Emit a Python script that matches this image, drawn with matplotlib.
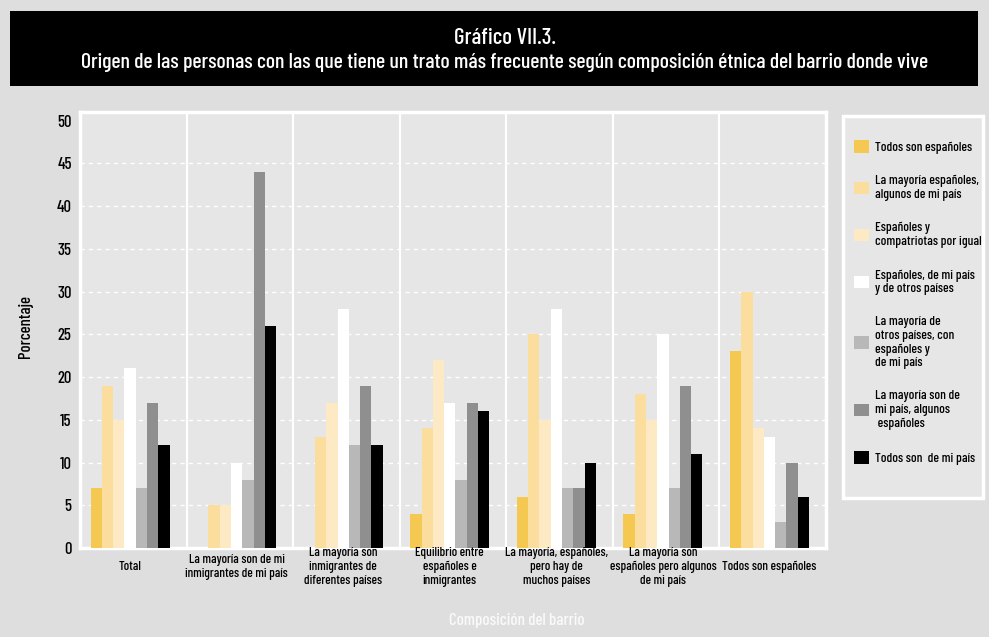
"""
Gráfico VII.3 - origen de las personas con las que tiene un trato más frecuente
"""

import matplotlib.pyplot as plt
import numpy as np
from matplotlib.patches import Patch, Rectangle

plt.rcParams['font.family'] = ['Barlow Condensed', 'Liberation Sans', 'DejaVu Sans']
plt.rcParams['font.weight'] = 'medium'

# categories on the x axis (composition of the neighbourhood)
categorias = [
    'Total',
    'La mayoría son de mi\ninmigrantes de mi país',
    'La mayoría son\ninmigrantes de\ndiferentes países',
    'Equilibrio entre\nespañoles e\ninmigrantes',
    'La mayoría, españoles,\npero hay de\nmuchos países',
    'La mayoría son\nespañoles pero algunos\nde mi país',
    'Todos son españoles',
]

# series (origin of the people they deal with most)
series = [
    'Todos son españoles',
    'La mayoría españoles,\nalgunos de mi país',
    'Españoles y\ncompatriotas por igual',
    'Españoles, de mi país\ny de otros países',
    'La mayoría de\notros países, con\nespañoles y\nde mi país',
    'La mayoría son de\nmi país, algunos\n españoles',
    'Todos son  de mi país',
]
colores = ['#f5c951', '#fbdd9e', '#fde9c3', '#ffffff', '#b8b8b8', '#8f8f8f', '#000000']

todos_espanoles = [7, 0, 0, 4, 6, 4, 23]
mayoria_esp_mi_pais = [19, 5, 13, 14, 25, 18, 30]
esp_compatriotas = [15, 5, 17, 22, 15, 15, 14]
esp_mi_pais_otros = [21, 10, 28, 17, 28, 25, 13]
mayoria_otros = [7, 8, 12, 8, 7, 7, 3]
mayoria_mi_pais = [17, 44, 19, 17, 7, 19, 10]
todos_mi_pais = [12, 26, 12, 16, 10, 11, 6]

valores = [todos_espanoles, mayoria_esp_mi_pais, esp_compatriotas, esp_mi_pais_otros,
           mayoria_otros, mayoria_mi_pais, todos_mi_pais]

yticks = list(range(0, 51, 5))

W, H = 989, 637
fig = plt.figure(figsize=(W / 100, H / 100), dpi=100)
fig.patch.set_facecolor('#dedede')

# black title band
fig.patches.append(Rectangle((10 / W, 1 - 86 / H), 968 / W, 75 / H,
                             transform=fig.transFigure, facecolor='black',
                             edgecolor='none', zorder=0))
fig.text(505 / W, 1 - 38 / H, 'Gráfico VII.3.', color='white', fontsize=16.5,
         ha='center', va='center')
fig.text(505 / W, 1 - 62 / H,
         'Origen de las personas con las que tiene un trato más frecuente según composición étnica del barrio donde vive',
         color='white', fontsize=15.7, ha='center', va='center')

ax = fig.add_axes([80 / W, 1 - 548 / H, 746 / W, 436 / H])
ax.set_facecolor('#e6e6e6')

x = np.arange(len(categorias))
n = len(series)
width = 0.106
for i, (vals, col, lab) in enumerate(zip(valores, colores, series)):
    offset = (i - (n - 1) / 2) * width - 0.03
    ax.bar(x + offset, vals, width, color=col, label=lab, zorder=3, linewidth=0)

ax.set_xlim(-0.5, len(categorias) - 0.5)
ax.set_ylim(0, 51)
ax.set_yticks(yticks)
ax.set_yticklabels([str(v) for v in yticks], fontsize=12)
ax.tick_params(axis='y', length=0, pad=6)
ax.set_xticks([])

for v in yticks[1:-1]:
    ax.axhline(v, color='white', linestyle=(0, (3, 3)), linewidth=1, zorder=1)
for s in np.arange(0.5, len(categorias) - 0.5):
    ax.axvline(s, color='white', linewidth=1.5, zorder=1)

for sp in ax.spines.values():
    sp.set_color('white')
    sp.set_linewidth(2.5)

for i, lab in enumerate(categorias):
    ax.text(i - 0.03, -0.043, lab, transform=ax.get_xaxis_transform(), ha='center',
            va='center', fontsize=9.4, linespacing=1.2)

fig.text(25 / W, 1 - 327 / H, 'Porcentaje', rotation=90, fontsize=12,
         ha='center', va='center')
fig.text(517 / W, 1 - 620 / H, 'Composición del barrio', color='#fafafa',
         fontsize=12.2, ha='center', va='center')

# legend box
fig.patches.append(Rectangle((843 / W, 1 - 498 / H), 140 / W, 382 / H,
                             transform=fig.transFigure, facecolor='#e6e6e6',
                             edgecolor='white', linewidth=2.5, zorder=0))
handles = [Patch(facecolor=c, edgecolor='none') for c in colores]
leg = fig.legend(handles, series, loc='upper left',
                 bbox_to_anchor=(854 / W, 1 - 140 / H), fontsize=9.6,
                 frameon=False, handlelength=1.1, handleheight=1.1,
                 handletextpad=0.5, labelspacing=1.58, borderpad=0,
                 borderaxespad=0)
for t in leg.get_texts():
    t.set_linespacing(1.17)

fig.savefig('out.png', dpi=100, facecolor=fig.get_facecolor())
